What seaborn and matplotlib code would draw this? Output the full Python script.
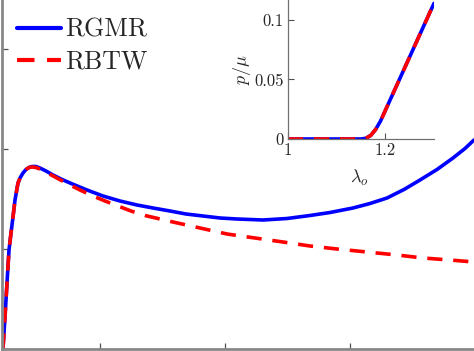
import numpy as np
import matplotlib
matplotlib.use("Agg")
import matplotlib.pyplot as plt
import seaborn as sns

# main curves
rgmr_x = [1.112, 1.120, 1.128, 1.136, 1.144, 1.152, 1.160, 1.172, 1.180, 1.192, 1.204,
          1.216, 1.228, 1.244, 1.260, 1.284, 1.312, 1.344, 1.380, 1.448, 1.512,
          1.580, 1.648, 1.712, 1.780, 1.844, 1.912, 1.980, 2.048, 2.152, 2.248,
          2.340, 2.420, 2.512, 2.580, 2.648, 2.716, 2.780, 2.848, 2.912, 2.960, 2.996]
rgmr_y = [0.0, 0.315, 0.655, 0.985, 1.155, 1.315, 1.485, 1.655, 1.705, 1.755, 1.79,
          1.81, 1.82, 1.82, 1.805, 1.775, 1.735, 1.695, 1.655, 1.585, 1.525,
          1.475, 1.435, 1.405, 1.375, 1.345, 1.325, 1.305, 1.295, 1.285, 1.30,
          1.33, 1.36, 1.405, 1.45, 1.505, 1.59, 1.685, 1.79, 1.905, 2.00, 2.085]

rbtw_x = [1.112, 1.120, 1.128, 1.136, 1.144, 1.152, 1.160, 1.172, 1.180, 1.192, 1.204,
          1.216, 1.228, 1.244, 1.268, 1.320, 1.372, 1.420, 1.472, 1.520, 1.572,
          1.624, 1.680, 1.740, 1.792, 1.900, 2.008, 2.120, 2.232, 2.340, 2.448,
          2.568, 2.688, 2.792, 2.900, 2.996]
rbtw_y = [0.0, 0.315, 0.655, 0.985, 1.155, 1.315, 1.485, 1.655, 1.705, 1.755, 1.79,
          1.81, 1.815, 1.81, 1.785, 1.715, 1.645, 1.585, 1.525, 1.475, 1.425,
          1.375, 1.33, 1.295, 1.265, 1.205, 1.145, 1.105, 1.065, 1.025, 0.995,
          0.965, 0.935, 0.905, 0.885, 0.865]

# inset: p/mu against lambda_o
inset_x = [1.00, 1.10, 1.15, 1.16, 1.17, 1.18, 1.19, 1.20, 1.25, 1.30]
inset_y = [0.0, 0.0, 0.0, 0.0006, 0.003, 0.008, 0.015, 0.024, 0.069, 0.114]

legend_labels = ["RGMR", "RBTW"]

sns.set_style("ticks")
plt.rcParams["font.family"] = ["cmr10", "DejaVu Serif"]
plt.rcParams["mathtext.fontset"] = "cm"
plt.rcParams["axes.unicode_minus"] = False

W, H = 474, 351
fig = plt.figure(figsize=(W / 100, H / 100), dpi=100)

# main axes (only part of it is visible in the crop)
ax = fig.add_axes([1.5 / W, 2.5 / H, 1 - 1.5 / W, 1 - 2.5 / H])
lw = 2.6
dash = (0, (4.2, 3.0))
sns.lineplot(x=rgmr_x, y=rgmr_y, sort=False, color="#0000ff", lw=lw,
             label=legend_labels[0], ax=ax)
sns.lineplot(x=rbtw_x, y=rbtw_y, sort=False, color="#ff0000", lw=lw,
             linestyle=dash, label=legend_labels[1], ax=ax)
ax.set_xlim(1.106, 2.996)
ax.set_ylim(0, 3.485)
ax.set_xticks([1.5, 2.0, 2.5])
ax.set_yticks([1, 2, 3])
ax.set_xticklabels([])
ax.set_yticklabels([])
ax.tick_params(direction="in", length=4, width=0.9, color="#505050")
for s in ["top", "right"]:
    ax.spines[s].set_visible(False)
for s in ["left", "bottom"]:
    ax.spines[s].set_color("#888888")
    ax.spines[s].set_linewidth(2.0)
ax.set_xlabel("")
ax.set_ylabel("")

leg = ax.legend(loc="upper left", bbox_to_anchor=(17 / W, 1 - 18 / H),
                bbox_transform=fig.transFigure, frameon=False,
                fontsize=18.6, handlelength=1.7, handletextpad=0.15,
                labelspacing=0.32, borderaxespad=0, borderpad=0)
for line in leg.get_lines():
    line.set_linewidth(3.0)

# inset
ix0, iy0, ix1, iy1 = 288, 139, 434, 0
inset = fig.add_axes([ix0 / W, (H - iy0) / H, (ix1 - ix0) / W, (iy0 - iy1) / H])
inset.patch.set_alpha(0)
sns.lineplot(x=inset_x, y=inset_y, sort=False, color="#0000ff", lw=lw, ax=inset)
sns.lineplot(x=inset_x, y=inset_y, sort=False, color="#ff0000", lw=lw,
             linestyle=dash, ax=inset)
inset.set_xlim(1.0, 1.3)
inset.set_ylim(0, 0.1168)
inset.set_xticks([1.0, 1.2])
inset.set_xticklabels(["1", "1.2"])
inset.set_yticks([0, 0.05, 0.1])
inset.set_yticklabels(["0", "0.05", "0.1"])
inset.tick_params(direction="in", length=4.5, width=0.8, color="#505050",
                  labelsize=12, pad=3)
for s in ["top", "right"]:
    inset.spines[s].set_visible(False)
for s in ["left", "bottom"]:
    inset.spines[s].set_color("#707070")
    inset.spines[s].set_linewidth(0.9)
inset.set_xlabel(r"$\lambda_o$", fontsize=13)
inset.set_ylabel(r"$p/\mu$", fontsize=13)
inset.xaxis.set_label_coords(0.49, -0.21)
inset.yaxis.set_label_coords(-0.24, 0.5)

fig.savefig("out.png", dpi=100)
